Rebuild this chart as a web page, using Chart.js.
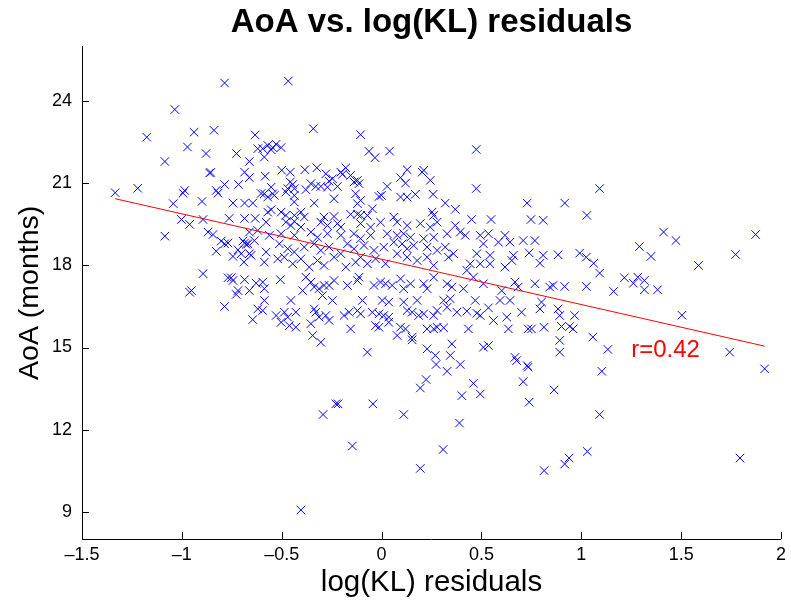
<!DOCTYPE html>
<html>
<head>
<meta charset="utf-8">
<script src="https://cdn.jsdelivr.net/npm/chart.js@4/dist/chart.umd.min.js"></script>
<style>
  html, body { margin: 0; padding: 0; background: #fff; }
  canvas { display: block; }
</style>
</head>
<body>
<canvas id="scatter" width="791" height="604"></canvas>
<script>
// x values: log(KL) residuals
const residuals = [
  -0.786,-1.035,-1.176,-0.939,-0.839,-0.633,-0.972,-0.879,-0.726,-0.620,
  -1.085,-0.662,-0.861,-0.855,-0.686,-0.662,-0.786,-0.716,-1.334,-1.221,
  -0.986,-0.994,-0.828,-0.819,-1.043,-0.899,-0.744,-0.686,-0.645,-0.763,
  -0.686,-0.633,-1.002,-0.894,-0.603,
  -1.085,-0.961,-0.869,-0.844,-0.803,-0.786,-0.769,-0.828,-0.744,-0.719,
  -0.703,-0.686,-0.669,-0.662,-0.653,-0.689,-0.894,-0.769,-0.753,-0.744,
  -0.686,-0.628,-0.952,-0.961,-0.719,-0.728,-0.662,-0.786,-0.620,-0.645,
  -0.620,-0.662,-0.694,-0.678,-0.637,
  -0.467,-0.342,-0.105,-0.063,-0.033,0.040,-0.595,-0.570,-0.545,-0.528,
  -0.503,-0.587,-0.553,-0.500,-0.457,-0.384,-0.324,-0.279,-0.204,-0.179,
  -0.196,-0.583,-0.457,-0.445,-0.470,-0.437,-0.354,-0.379,-0.329,-0.304,
  -0.263,-0.246,-0.221,-0.271,-0.155,-0.138,-0.113,-0.121,0.028,0.095,
  0.128,0.120,0.211,0.244,0.203,-0.553,-0.545,-0.570,-0.537,-0.587,
  -0.437,-0.437,-0.479,-0.337,-0.238,-0.130,-0.105,-0.121,-0.013,-0.001,
  0.095,0.128,0.169,0.258,-0.570,-0.553,-0.503,-0.479,-0.437,-0.404,
  -0.387,-0.288,-0.238,-0.155,-0.121,-0.105,-0.071,-0.046,0.061,0.253,
  0.261,
  0.474,0.474,1.092,0.319,0.369,0.729,0.917,1.028,0.451,0.548,0.748,0.809,
  0.369,0.328,0.394,0.419,0.494,0.535,0.510,0.585,0.618,0.643,
  0.709,0.768,0.319,0.360,0.335,0.477,0.543,0.543,0.494,0.444,
  0.427,0.660,0.652,0.618,0.739,0.809,0.884,0.992,1.025,1.062,
  1.092,0.793,0.328,0.352,0.410,0.460,0.510,0.602,0.668,0.684,
  0.768,0.842,0.859,0.917,1.025,1.162,0.311,0.344,0.328,0.469,
  0.593,0.643,0.801,0.793,0.377,0.427,0.477,0.535,0.494,0.560,
  0.627,0.701,0.884,0.892,0.967,0.311,0.435,0.635,0.734,0.751,
  0.813,0.901,0.942,0.959,0.352,0.510,0.535,0.892,1.058,1.133,
  0.892,0.344,0.668,
  1.412,1.474,1.873,1.291,1.349,1.773,1.587,1.216,1.261,1.283,1.316,1.316,1.382,1.504,1.743,
  0.394,0.328,0.676,0.729,0.734,1.103,0.460,0.494,0.402,0.709,0.864,0.739,1.092,0.390,0.308,1.030,0.939,0.917,0.814,
  0.273,0.223,0.194,-0.229,-0.218,-0.043,-0.293,0.111,-0.146,0.194,-0.404,1.918,1.795,
  -0.578,-0.479,-0.454,-0.437,-0.404,-0.304,-0.271,-0.221,-0.204,-0.105,-0.055,-0.005,0.078,0.128,0.194,0.244,0.278,
  -0.562,-0.503,-0.437,-0.354,-0.321,-0.271,-0.204,-0.138,-0.105,-0.055,0.028,0.078,0.111,0.145,0.211,0.261,
  -0.578,-0.512,-0.470,-0.437,-0.387,-0.337,-0.304,-0.263,-0.204,-0.171,-0.138,-0.088,-0.038,0.011,0.061,0.103,0.128,0.161,0.228,0.278,
  -0.587,-0.520,-0.487,-0.445,-0.404,-0.362,-0.321,-0.288,-0.238,-0.179,-0.130,-0.105,-0.071,-0.030,0.020,0.078,0.128,0.178,0.228,0.261,
  -0.595,-0.587,-0.507,-0.379,-0.354,-0.337,-0.313,-0.395,-0.288,-0.263,-0.238,-0.171,-0.121,-0.113,-0.038,-0.005,0.020,0.053,0.095,0.111,0.145,0.211,0.228,0.261,
  -0.587,-0.454,-0.296,-0.246,-0.096,0.003,0.036,0.111,0.178,
  -0.595,-0.528,-0.487,-0.470,-0.429,-0.337,-0.329,-0.313,-0.279,-0.188,-0.163,-0.121,-0.105,-0.046,-0.013,0.011,0.036,0.128,0.153,0.186,0.211,0.261,0.278,
  -0.503,-0.462,-0.429,-0.354,-0.263,-0.155,-0.030,-0.013,0.036,0.095,0.120,0.228,0.261,0.278,
  -0.345,-0.304,0.078,0.153,0.153,0.228,-0.071,0.269
];

// y values: AoA in months, same order as residuals
const aoa = [
  24.67,23.70,22.69,22.87,22.94,22.77,22.33,22.09,22.09,22.27,
  21.80,21.80,21.38,21.40,21.41,21.21,20.96,20.96,20.66,20.82,
  20.74,20.64,20.74,20.64,20.26,20.34,20.28,20.28,20.28,19.72,
  19.72,19.72,19.68,19.68,20.63,
  19.07,19.50,19.22,19.13,18.89,18.79,18.82,18.52,18.33,18.57,
  18.43,18.82,18.79,18.43,18.37,18.12,17.70,17.55,17.55,17.45,
  17.48,17.35,17.08,17.02,17.08,16.94,17.08,16.50,16.41,16.02,
  19.28,19.22,18.89,18.77,18.91,
  24.74,23.00,22.78,22.17,21.94,22.18,22.27,22.39,22.31,22.43,
  22.31,21.96,22.23,21.48,21.41,21.50,21.57,21.35,21.41,21.57,
  21.33,21.26,21.05,20.96,20.81,20.81,20.99,20.77,20.89,20.89,
  21.08,21.17,20.89,20.86,21.29,21.05,20.99,21.11,20.89,21.21,
  21.50,21.01,21.48,21.11,21.41,20.86,20.62,20.50,20.56,20.62,
  20.56,20.32,20.68,20.28,20.44,20.62,20.38,20.26,20.52,20.56,
  20.50,20.50,20.60,20.60,19.95,20.04,19.95,19.83,19.83,19.95,
  19.77,19.77,19.79,19.87,19.87,19.83,19.83,20.07,19.77,19.95,
  19.83,
  22.24,20.81,20.81,20.28,20.05,20.28,20.28,19.83,19.68,19.68,19.68,19.65,
  19.46,19.16,19.22,19.10,19.10,19.16,18.79,18.85,19.10,18.85,
  18.91,18.91,18.67,18.43,18.30,18.43,18.37,18.06,18.06,18.06,
  17.82,18.37,18.18,17.94,18.46,18.37,18.39,18.45,18.30,18.08,
  17.72,18.08,17.33,17.21,17.15,17.57,17.33,17.08,17.39,17.21,
  17.33,17.21,17.27,17.23,17.23,17.05,16.72,16.78,16.47,16.72,
  16.72,16.72,16.66,16.41,16.29,16.33,16.25,16.45,16.17,15.99,
  16.11,16.29,16.41,16.17,16.17,15.72,15.68,15.68,15.68,15.68,
  15.74,15.77,15.77,15.68,15.13,15.01,15.07,15.26,15.38,14.93,
  14.83,14.71,14.64,
  19.22,18.91,19.13,18.69,18.33,18.40,18.00,17.55,17.35,17.57,17.45,17.11,17.11,16.18,14.83,
  14.38,14.13,14.52,14.34,14.28,14.13,13.69,13.30,13.24,13.75,13.45,13.00,12.55,12.24,11.27,11.20,10.96,10.74,10.50,
  14.38,13.83,13.52,12.94,12.94,12.94,12.55,12.55,11.40,10.58,9.06,14.22,10.96,
  19.58,19.58,19.46,19.61,19.40,19.58,19.46,19.53,19.40,19.53,19.40,19.58,19.58,19.46,19.53,19.40,19.58,
  19.10,19.16,19.10,19.22,19.03,19.16,19.10,19.16,18.98,19.10,19.16,19.10,19.16,19.03,18.98,19.03,
  18.49,18.79,18.61,18.49,18.67,18.79,18.55,18.67,18.43,18.79,18.61,18.73,18.55,18.67,18.85,18.79,18.61,18.73,18.67,18.55,
  18.12,18.24,18.30,18.06,18.24,17.94,18.18,18.00,18.30,17.94,18.12,18.30,18.06,18.24,18.06,18.43,18.30,18.18,18.30,18.00,
  17.39,17.15,17.48,17.57,17.39,17.21,17.15,17.08,17.27,17.27,17.45,17.27,17.45,17.57,17.27,17.39,17.33,17.27,17.51,17.15,17.33,17.33,17.15,17.57,
  16.72,16.72,16.90,16.72,16.72,16.72,16.66,16.66,16.72,
  16.35,16.17,16.29,16.11,16.29,16.41,16.29,16.11,16.17,16.17,16.29,16.35,16.23,16.29,16.23,16.17,16.11,16.35,16.29,16.17,16.23,16.17,16.35,
  15.92,15.80,15.74,15.87,15.99,15.68,15.80,15.74,15.92,15.74,15.68,15.68,15.68,15.74,
  15.44,15.19,15.44,15.38,15.28,14.95,14.83,14.71
];

// regression line end points
const fitX = [-1.334, 1.918];
const fitY = [20.44, 15.05];

const xTicks = [-1.5, -1, -0.5, 0, 0.5, 1, 1.5, 2];
const yTicks = [9, 12, 15, 18, 21, 24];

const rLabel = { text: "r=0.42", x: 1.25, y: 14.9 };

const fontFamily = '"Liberation Sans", Arial, Helvetica, sans-serif';

const points = residuals.map((x, i) => ({ x: x, y: aoa[i] }));
const fitLine = fitX.map((x, i) => ({ x: x, y: fitY[i] }));

const fmt = (v) => (v < 0 ? "\u2013" + Math.abs(v) : String(v));

// matlab style ticks pointing into the axes, plus the r label
const insideTicks = {
  id: "insideTicks",
  afterDraw(chart) {
    const { ctx, chartArea, scales } = chart;
    ctx.save();
    ctx.strokeStyle = "#000";
    ctx.lineWidth = 1;
    ctx.beginPath();
    xTicks.forEach((v) => {
      const px = Math.round(scales.x.getPixelForValue(v)) + 0.5;
      ctx.moveTo(px, chartArea.bottom);
      ctx.lineTo(px, chartArea.bottom - 7);
    });
    yTicks.forEach((v) => {
      const py = Math.round(scales.y.getPixelForValue(v)) + 0.5;
      ctx.moveTo(chartArea.left, py);
      ctx.lineTo(chartArea.left + 7, py);
    });
    ctx.stroke();

    ctx.fillStyle = "#ff0000";
    ctx.font = "24px " + fontFamily;
    ctx.textAlign = "left";
    ctx.textBaseline = "middle";
    ctx.fillText(rLabel.text, scales.x.getPixelForValue(rLabel.x), scales.y.getPixelForValue(rLabel.y));
    ctx.restore();
  }
};

const ctx = document.getElementById("scatter").getContext("2d");
new Chart(ctx, {
  type: "scatter",
  data: {
    datasets: [
      {
        label: "fit",
        data: fitLine,
        showLine: true,
        borderColor: "#ff0000",
        borderWidth: 1,
        pointRadius: 0,
        order: 0
      },
      {
        label: "AoA",
        data: points,
        pointStyle: "crossRot",
        pointRadius: 6,
        pointBorderWidth: 1,
        borderColor: "#0000ff",
        backgroundColor: "#0000ff",
        order: 1
      }
    ]
  },
  options: {
    responsive: false,
    animation: false,
    devicePixelRatio: 1,
    layout: { padding: { left: 0, right: 7, top: 0, bottom: 0 } },
    plugins: {
      legend: { display: false },
      tooltip: { enabled: false },
      title: {
        display: true,
        text: "AoA vs. log(KL) residuals",
        color: "#000",
        fullSize: false,
        font: { family: fontFamily, size: 33, weight: "bold" },
        padding: { top: 3, bottom: 4 }
      }
    },
    scales: {
      x: {
        type: "linear",
        min: -1.5,
        max: 2,
        afterBuildTicks: (s) => { s.ticks = xTicks.map((value) => ({ value })); },
        afterFit: (s) => { s.height = 65; },
        grid: { display: false, drawTicks: false },
        border: { display: true, color: "#000", width: 1 },
        ticks: {
          color: "#000",
          padding: 5,
          maxRotation: 0,
          autoSkip: false,
          font: { family: fontFamily, size: 18 },
          callback: (v) => fmt(v)
        },
        title: {
          display: true,
          text: "log(KL) residuals",
          color: "#000",
          font: { family: fontFamily, size: 29.5 },
          padding: { top: 0, bottom: 3 }
        }
      },
      y: {
        type: "linear",
        min: 8,
        max: 26,
        afterBuildTicks: (s) => { s.ticks = yTicks.map((value) => ({ value })); },
        afterFit: (s) => { s.width = 82; },
        grid: { display: false, drawTicks: false },
        border: { display: true, color: "#000", width: 1 },
        ticks: {
          color: "#000",
          padding: 10,
          autoSkip: false,
          font: { family: fontFamily, size: 18 },
          callback: (v) => fmt(v)
        },
        title: {
          display: true,
          text: "AoA (months)",
          color: "#000",
          font: { family: fontFamily, size: 28.5 },
          padding: { top: 13, bottom: 5 }
        }
      }
    }
  },
  plugins: [insideTicks]
});
</script>
</body>
</html>
